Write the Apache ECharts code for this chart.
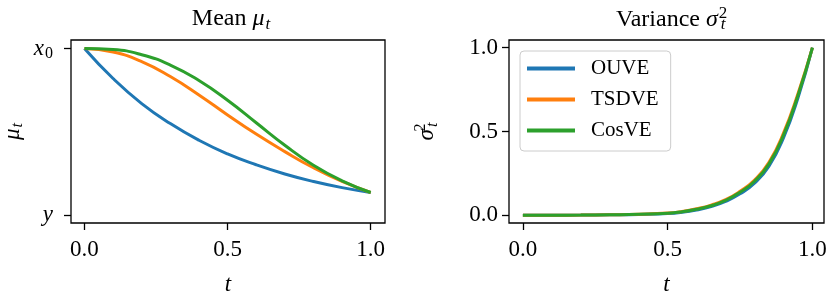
<!DOCTYPE html>
<html>
<head>
<meta charset="utf-8">
<script src="https://cdn.jsdelivr.net/npm/echarts@6/dist/echarts.min.js"></script>
<style>
html,body{margin:0;padding:0;background:#fff;}
#c{width:830px;height:301px;}
</style>
</head>
<body>
<div id="c"></div>
<script>
// ---- data ----
const seriesNames = ['OUVE', 'TSDVE', 'CosVE'];
const colors = ['#1f77b4', '#ff7f0e', '#2ca02c'];

const tMean = [0, 0.1, 0.2, 0.3, 0.4, 0.5, 0.6, 0.7, 0.8, 0.9, 1.0];
const meanOUVE  = [1, 0.82, 0.67, 0.55, 0.45, 0.368, 0.303, 0.248, 0.203, 0.166, 0.137];
const meanTSDVE = [1, 0.979, 0.922, 0.832, 0.722, 0.602, 0.487, 0.382, 0.285, 0.203, 0.137];
const meanCosVE = [1, 0.994, 0.963, 0.901, 0.808, 0.69, 0.555, 0.42, 0.3, 0.207, 0.137];

const tVar = [0, 0.1, 0.2, 0.3, 0.4, 0.5, 0.55, 0.6, 0.65, 0.7, 0.75, 0.8, 0.85, 0.9, 0.95, 1.0];
const varOUVE  = [0, 0.0004, 0.001, 0.0025, 0.005, 0.010, 0.018, 0.032, 0.052, 0.083, 0.128, 0.192, 0.293, 0.462, 0.700, 1.0];
const varTSDVE = [0, 0.0005, 0.001, 0.003, 0.006, 0.013, 0.023, 0.039, 0.061, 0.093, 0.143, 0.210, 0.316, 0.490, 0.725, 1.0];
const varCosVE = [0, 0.0005, 0.001, 0.003, 0.006, 0.012, 0.021, 0.036, 0.057, 0.089, 0.137, 0.203, 0.307, 0.478, 0.715, 1.0];

const xTicks = [0, 0.5, 1];
const meanTickValues = [0, 1];
const meanTickLabels = ['{i|y}', '{i|x}{s|0}'];
const varTicks = [0, 0.5, 1];

// ---- chart ----
const FONT = 'Liberation Serif';
const chart = echarts.init(document.getElementById('c'), null, {renderer: 'canvas'});

function pairs(xs, ys) { return xs.map((x, i) => [x, ys[i]]); }

const tickStyle = {color: '#000', width: 1.3};
const richMath = {
  i: {fontFamily: FONT, fontStyle: 'italic', fontSize: 23, color: '#000'},
  s: {fontFamily: FONT, fontSize: 16, color: '#000', padding: [11, 0, 0, 1]},
  si: {fontFamily: FONT, fontStyle: 'italic', fontSize: 16, color: '#000', padding: [11, 0, 0, 1]},
  n: {fontFamily: FONT, fontSize: 23, color: '#000'}
};

function xAxisCfg(gridIndex, min, max) {
  return {
    type: 'value', gridIndex, min, max,
    axisLine: {show: false, onZero: false},
    splitLine: {show: false},
    axisTick: {show: true, customValues: xTicks, length: 7, lineStyle: tickStyle},
    axisLabel: {customValues: xTicks, formatter: v => v.toFixed(1), fontFamily: FONT, fontSize: 23, color: '#000', margin: 15},
    name: 't', nameLocation: 'middle', nameGap: 50,
    nameTextStyle: {fontFamily: FONT, fontStyle: 'italic', fontSize: 23, color: '#000'}
  };
}

const series = [];
const meanData = [meanOUVE, meanTSDVE, meanCosVE];
const varData = [varOUVE, varTSDVE, varCosVE];
for (let k = 0; k < 3; k++) {
  series.push({
    type: 'line', name: seriesNames[k], xAxisIndex: 0, yAxisIndex: 0,
    data: pairs(tMean, meanData[k]), showSymbol: false, symbol: 'none', smooth: 0.5,
    lineStyle: {color: colors[k], width: 3}, itemStyle: {color: colors[k]}, z: 2 + k
  });
}
for (let k = 0; k < 3; k++) {
  series.push({
    type: 'line', name: seriesNames[k], xAxisIndex: 1, yAxisIndex: 1,
    data: pairs(tVar, varData[k]), showSymbol: false, symbol: 'none', smooth: 0.5,
    lineStyle: {color: colors[k], width: 3}, itemStyle: {color: colors[k]}, z: 2 + k
  });
}

const titleRich = {
  n: {fontFamily: FONT, fontWeight: 'normal', fontSize: 24, color: '#000'},
  i: {fontFamily: FONT, fontWeight: 'normal', fontStyle: 'italic', fontSize: 24, color: '#000'},
  p: {fontFamily: FONT, fontWeight: 'normal', fontSize: 17, color: '#000', padding: [0, 0, 12, 1], width: 1, align: 'left'},
  s: {fontFamily: FONT, fontWeight: 'normal', fontStyle: 'italic', fontSize: 17, color: '#000', padding: [11, 0, 0, 1]}
};

chart.setOption({
  animation: false,
  backgroundColor: '#fff',
  title: [
    {
      text: '{n|Mean }{i|μ}{s|t}', left: 226, top: 0, textAlign: 'center',
      textStyle: {fontWeight: 'normal', rich: titleRich}
    },
    {
      text: '{n|Variance }{i|σ}{p|2}{s|t}', left: 611, top: 0,
      textStyle: {fontWeight: 'normal', rich: titleRich}
    }
  ],
  legend: {
    data: seriesNames,
    orient: 'vertical', left: 520, top: 51,
    icon: 'rect', itemWidth: 48, itemHeight: 4, itemGap: 10,
    padding: [7, 12, 10, 7],
    backgroundColor: 'rgba(255,255,255,0.8)', borderColor: '#cccccc', borderWidth: 1, borderRadius: 4,
    textStyle: {fontFamily: FONT, fontSize: 21, color: '#000', padding: [0, 0, 0, 11]},
    z: 10
  },
  grid: [
    {left: 68, top: 40, width: 317, height: 192, show: true, borderColor: '#000', borderWidth: 1.3, backgroundColor: 'transparent', z: 5},
    {left: 509, top: 40, width: 315, height: 192, show: true, borderColor: '#000', borderWidth: 1.3, backgroundColor: 'transparent', z: 5}
  ],
  xAxis: [
    xAxisCfg(0, -0.047, 1.05),
    xAxisCfg(1, -0.048, 1.04)
  ],
  yAxis: [
    {
      type: 'value', gridIndex: 0, min: -0.046, max: 1.051,
      axisLine: {show: false, onZero: false}, splitLine: {show: false},
      axisTick: {show: true, customValues: meanTickValues, length: 7, lineStyle: tickStyle},
      axisLabel: {
        customValues: meanTickValues,
        formatter: v => meanTickLabels[meanTickValues.indexOf(v)],
        rich: richMath, margin: 18
      },
      name: '{i|μ}{si|t}', nameLocation: 'middle', nameGap: 45, nameRotate: 90,
      nameTextStyle: {rich: richMath}
    },
    {
      type: 'value', gridIndex: 1, min: -0.046, max: 1.046,
      axisLine: {show: false, onZero: false}, splitLine: {show: false},
      axisTick: {show: true, customValues: varTicks, length: 7, lineStyle: tickStyle},
      axisLabel: {customValues: varTicks, formatter: v => v.toFixed(1), fontFamily: FONT, fontSize: 23, color: '#000', margin: 11},
      name: '{i|σ}{p|2}{s|t}', nameLocation: 'middle', nameGap: 68, nameRotate: 90,
      nameTextStyle: {rich: {
        i: {fontFamily: FONT, fontStyle: 'italic', fontSize: 23, color: '#000'},
        p: {fontFamily: FONT, fontSize: 16, color: '#000', padding: [0, 0, 12, 1], width: 1, align: 'left'},
        s: {fontFamily: FONT, fontStyle: 'italic', fontSize: 16, color: '#000', padding: [11, 0, 0, 0]}
      }}
    }
  ],
  series
});
</script>
</body>
</html>
